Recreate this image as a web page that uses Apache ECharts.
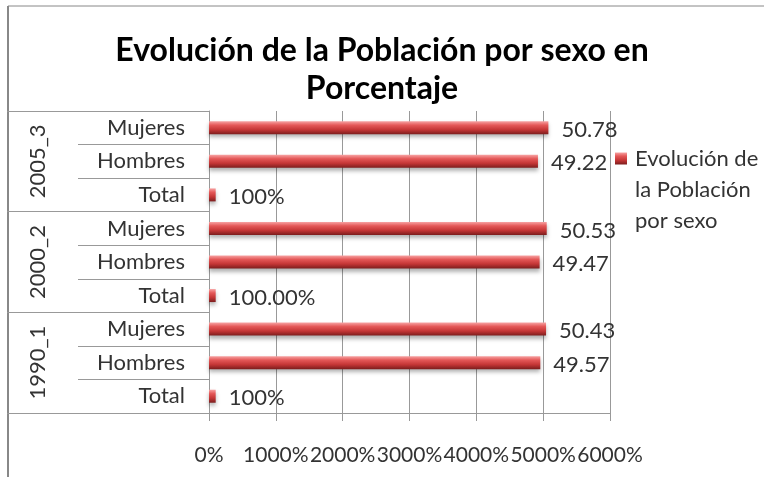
<!DOCTYPE html>
<html>
<head>
<meta charset="utf-8">
<script src="https://cdn.jsdelivr.net/npm/echarts@6/dist/echarts.min.js"></script>
<style>
  html, body { margin: 0; padding: 0; background: #fff; }
  #chart { width: 764px; height: 477px; }
</style>
</head>
<body>
<div id="chart"></div>
<script>
// categories, bottom to top
var subCategories = ["Total", "Hombres", "Mujeres", "Total", "Hombres", "Mujeres", "Total", "Hombres", "Mujeres"];
var groups = ["1990_1", "2000_2", "2005_3"];
var values = [1, 49.57, 50.43, 1, 49.47, 50.53, 1, 49.22, 50.78];
var valueLabels = ["100%", "49.57", "50.43", "100.00%", "49.47", "50.53", "100%", "49.22", "50.78"];
var xTicks = [0, 10, 20, 30, 40, 50, 60];
var seriesName = "Evolución de la Población por sexo";

var FONT = "Lato";
var chart = echarts.init(document.getElementById("chart"));

var barColor = new echarts.graphic.LinearGradient(0, 0, 0, 1, [
  { offset: 0, color: "#f7a3a3" },
  { offset: 0.3, color: "#e45858" },
  { offset: 0.65, color: "#c43636" },
  { offset: 1, color: "#7c1d1d" }
]);

chart.setOption({
  animation: false,
  textStyle: { fontFamily: FONT },
  title: {
    text: "Evolución de la Población por sexo en\nPorcentaje",
    left: "center",
    top: 27,
    textStyle: { fontFamily: FONT, fontSize: 32, fontWeight: "bold", color: "#000", lineHeight: 38 }
  },
  legend: {
    left: 610,
    top: 76,
    orient: "vertical",
    itemWidth: 12,
    itemHeight: 12,
    data: [{ name: seriesName, icon: "rect" }],
    // two empty lines so the first text line sits level with the marker
    formatter: function () { return "\n\nEvolución de\nla Población\npor sexo"; },
    textStyle: { fontFamily: FONT, fontSize: 22, color: "#333", lineHeight: 31, padding: [0, 0, 0, 3] }
  },
  grid: { left: 209, right: 154, top: 111, bottom: 64 },
  xAxis: {
    type: "value",
    min: xTicks[0],
    max: xTicks[xTicks.length - 1],
    interval: 10,
    axisLine: { show: true, lineStyle: { color: "#999", width: 1 } },
    axisTick: { show: true, length: 8, lineStyle: { color: "#999" } },
    splitLine: { show: true, lineStyle: { color: "#999", width: 1 } },
    axisLabel: {
      margin: 32,
      fontSize: 21,
      color: "#333",
      fontFamily: FONT,
      showMinLabel: true,
      showMaxLabel: true,
      hideOverlap: false,
      formatter: function (v) { return (v * 100) + "%"; }
    }
  },
  yAxis: [
    {
      type: "category",
      data: subCategories,
      position: "left",
      axisLine: { show: true, lineStyle: { color: "#999" } },
      axisTick: { show: true, length: 131, lineStyle: { color: "#999" } },
      axisLabel: { margin: 24, fontSize: 22, color: "#333", fontFamily: FONT }
    },
    {
      type: "category",
      data: groups,
      position: "left",
      offset: 202,
      axisLine: { show: false },
      axisTick: { show: true, inside: true, length: 202, lineStyle: { color: "#999" } },
      axisLabel: { inside: true, rotate: 90, margin: 20, fontSize: 22, color: "#333", fontFamily: FONT }
    }
  ],
  graphic: [
    { type: "line", shape: { x1: 8, y1: 6, x2: 764, y2: 6 }, style: { stroke: "#888", lineWidth: 1 } },
    { type: "line", shape: { x1: 8, y1: 6, x2: 8, y2: 477 }, style: { stroke: "#888", lineWidth: 2 } }
  ],
  series: [
    {
      name: seriesName,
      type: "bar",
      yAxisIndex: 0,
      data: values,
      barWidth: 13,
      itemStyle: {
        color: barColor,
        shadowColor: "rgba(0,0,0,0.3)",
        shadowBlur: 4,
        shadowOffsetY: 3
      },
      label: {
        show: true,
        position: "right",
        distance: 13,
        fontSize: 22,
        color: "#333",
        fontFamily: FONT,
        offset: [0, 2],
        formatter: function (p) { return valueLabels[p.dataIndex]; }
      }
    }
  ]
});
</script>
</body>
</html>
